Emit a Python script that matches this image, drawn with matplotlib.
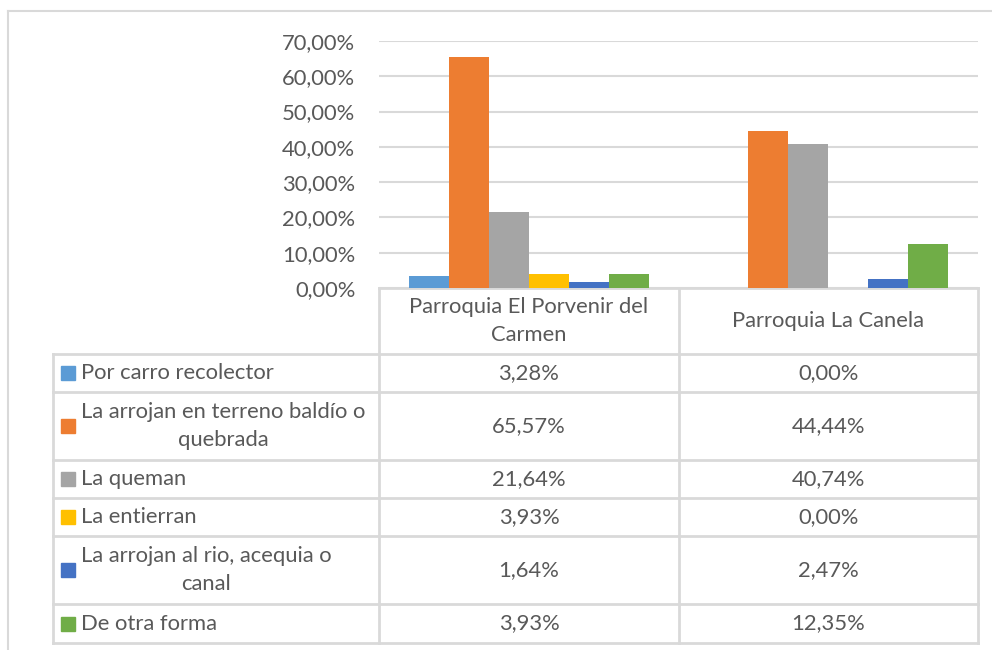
import matplotlib
matplotlib.use("Agg")
import matplotlib.pyplot as plt
import numpy as np
from matplotlib.ticker import FuncFormatter

categories = ["Parroquia El Porvenir del\nCarmen", "Parroquia La Canela"]
series_names = [
    "Por carro recolector",
    "La arrojan en terreno baldío o\nquebrada",
    "La queman",
    "La entierran",
    "La arrojan al rio, acequia o\ncanal",
    "De otra forma",
]
porvenir = [3.28, 65.57, 21.64, 3.93, 1.64, 3.93]
canela = [0.00, 44.44, 40.74, 0.00, 2.47, 12.35]
colors = ["#5B9BD5", "#ED7D31", "#A5A5A5", "#FFC000", "#4472C4", "#70AD47"]
yticks = [0, 10, 20, 30, 40, 50, 60, 70]

plt.rcParams['font.family'] = ['Lato', 'DejaVu Sans']
TXT = "#595959"
GRID = "#D9D9D9"
FS = 15.8
LS = 1.5

W, H = 992, 650
fig = plt.figure(figsize=(W / 100, H / 100), dpi=100)

# pixel geometry
px_left, px_right = 379, 978
px_top, px_bot = 41, 288

def fx(x):
    return x / W

def fy(y):
    return 1 - y / H

ax = fig.add_axes([fx(px_left), fy(px_bot), fx(px_right - px_left), (px_bot - px_top) / H])
values = np.array([porvenir, canela]).T  # series x category
n = len(series_names)
bw = 1 / 7.5
x = np.arange(len(categories)) + 0.5
for i in range(n):
    ax.bar(x - 3 * bw + (i + 0.5) * bw, values[i] / 100, width=bw, color=colors[i],
           zorder=3, linewidth=0)
ax.set_xlim(0, 2)
ax.set_ylim(0, 0.70)
ax.set_yticks([t / 100 for t in yticks])
ax.yaxis.set_major_formatter(FuncFormatter(lambda v, p: f"{v*100:.2f}%".replace(".", ",")))
ax.tick_params(axis="y", length=0, pad=17, labelsize=FS, labelcolor=TXT)
ax.set_xticks([])
for s in ax.spines.values():
    s.set_visible(False)
ax.grid(axis="y", color=GRID, linewidth=1.5, zorder=0)
ax.set_facecolor("none")

# overlay for table
ov = fig.add_axes([0, 0, 1, 1], zorder=-1)
ov.set_xlim(0, W)
ov.set_ylim(H, 0)
ov.axis("off")

lc = GRID
lw = 2
# outer frame
ov.plot([7.5, 7.5], [11, H], color=lc, lw=1.5)
ov.plot([7.5, W], [11, 11], color=lc, lw=1.5)

col_x = [53, 379, 679, 978]
row_y = [288, 354, 392, 460, 498, 536, 604, 643]

# header cell box
ov.plot([379, 978], [288, 288], color=lc, lw=lw)
for cx in col_x[1:]:
    ov.plot([cx, cx], [288, 643], color=lc, lw=lw)
ov.plot([53, 53], [354, 643], color=lc, lw=lw)
for ry in row_y[1:]:
    ov.plot([53, 978], [ry, ry], color=lc, lw=lw)

# header texts
for j, c in enumerate(categories):
    cx = (col_x[j + 1] + col_x[j + 2]) / 2
    ov.text(cx, (288 + 354) / 2, c, ha="center", va="center", multialignment="center",
            fontsize=FS, color=TXT, linespacing=LS)

for i in range(n):
    cy = (row_y[i + 1] + row_y[i + 2]) / 2
    ov.add_patch(plt.Rectangle((61, cy - 7), 14, 14, color=colors[i]))
    ov.text(81, cy, series_names[i], ha="left", va="center", multialignment="center",
            fontsize=FS, color=TXT, linespacing=LS)
    for j in range(2):
        cx = (col_x[j + 1] + col_x[j + 2]) / 2
        ov.text(cx, cy, f"{values[i][j]:.2f}%".replace(".", ","), ha="center", va="center",
                fontsize=FS, color=TXT)

fig.savefig("out.png", dpi=100)
